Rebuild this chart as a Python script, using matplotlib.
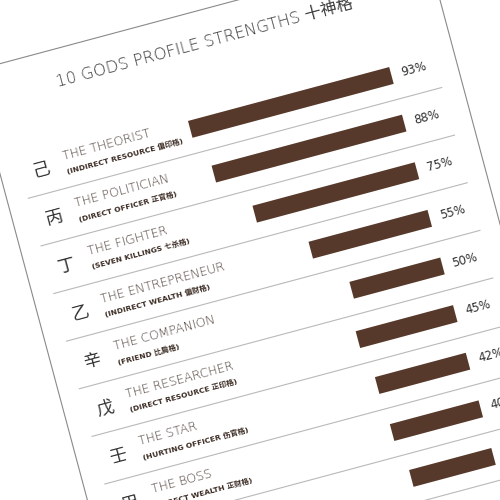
import matplotlib
matplotlib.use("Agg")
import matplotlib.pyplot as plt
from matplotlib.transforms import Affine2D

# ---------------- data ----------------
stems = ["己", "丙", "丁", "乙", "辛", "戊", "壬", "甲", "庚"]
profiles = ["THE THEORIST", "THE POLITICIAN", "THE FIGHTER", "THE ENTREPRENEUR",
            "THE COMPANION", "THE RESEARCHER", "THE STAR", "THE BOSS", "THE ARTIST"]
subtitles = ["(INDIRECT RESOURCE 偏印格)", "(DIRECT OFFICER 正官格)", "(SEVEN KILLINGS 七杀格)",
             "(INDIRECT WEALTH 偏财格)", "(FRIEND 比肩格)", "(DIRECT RESOURCE 正印格)",
             "(HURTING OFFICER 伤官格)", "(DIRECT WEALTH 正财格)", "(EATING GOD 食神格)"]
pct_labels = [93, 88, 75, 55, 50, 45, 42, 40, 38]
bar_lengths = [93, 88, 75, 55, 42, 45, 42, 41, 38]   # drawn bar lengths
title = "10 GODS PROFILE STRENGTHS 十神格"

# ---------------- style ----------------
BAR = "#56392a"
LINE = "#b9b9b9"
FRAME = "#8a8a8a"
SANS = ["DejaVu Sans", "Noto Sans CJK TC"]
CJK = ["Noto Sans CJK TC", "DejaVu Sans"]

fig = plt.figure(figsize=(5, 5), dpi=100)
fig.patch.set_facecolor("white")
ax = fig.add_axes([0, 0, 1, 1])
ax.set_xlim(0, 500)
ax.set_ylim(500, 0)
ax.axis("off")

ANG = 15.0
SP = 49.3          # row spacing (page px)
V0 = 174.2         # centre of first row (page px)
R = 358.6          # common right end of bars (page px)
K = 2.24           # page px per percent

rot = Affine2D().rotate_deg(-ANG)
page = rot + ax.transData                                   # page px -> image
rows = Affine2D().scale(1, SP).translate(0, V0) + page      # (page px, row index)
vals = Affine2D().scale(-K, SP).translate(R, V0) + page     # (percent, row index)

n = len(profiles)
idx = list(range(n))

# frame of the page
ax.plot([-45, 425, 425], [61.5, 61.5, 1200], color=FRAME, lw=0.8, transform=page)
ax.plot([-45, -45], [61.5, 1200], color=FRAME, lw=0.8, transform=page)

# separators
for i in idx:
    ax.plot([-24, 404], [i + 0.5, i + 0.5], color=LINE, lw=0.8, transform=rows)

# bars (extend leftwards from the common right end)
ax.barh(idx, bar_lengths, height=0.353, color=BAR, transform=vals, linewidth=0)

# title
ax.text(33, 99, title, transform=page, rotation=ANG, rotation_mode="anchor",
        ha="left", va="baseline", fontsize=11.8, color="#3d3d3d", family=SANS,
        weight="light")

for i in idx:
    ax.text(-4, i + 0.02, stems[i], transform=rows, rotation=ANG, rotation_mode="anchor",
            ha="center", va="center", fontsize=12.5, color="#333333", family=CJK, weight="light")
    ax.text(20, i - 0.07, profiles[i], transform=rows, rotation=ANG, rotation_mode="anchor",
            ha="left", va="baseline", fontsize=8.9, color="#45362f", family=SANS, weight="light")
    ax.text(20, i + 0.235, subtitles[i], transform=rows, rotation=ANG, rotation_mode="anchor",
            ha="left", va="baseline", fontsize=5.4, color="#3a2a22", family=SANS, weight="bold")
    ax.text(369, i, f"{pct_labels[i]}%", transform=rows, rotation=ANG, rotation_mode="anchor",
            ha="left", va="center", fontsize=8.5, color="#2e2e2e", family=SANS)

fig.savefig("out.png", dpi=100, facecolor="white")
